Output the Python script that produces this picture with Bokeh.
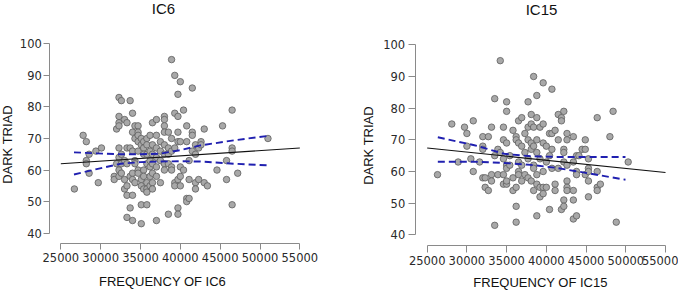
from math import pi

from bokeh.embed import file_html
from bokeh.layouts import row
from bokeh.models import FixedTicker, Label, LinearAxis, Range1d
from bokeh.plotting import figure
from bokeh.resources import INLINE

# Axis ticks shared by both panels
x_ticks = [25000, 30000, 35000, 40000, 45000, 50000, 55000]
y_ticks = [40, 50, 60, 70, 80, 90, 100]

# ---- IC6 panel data ----
ic6_freq = [
    26700, 27800, 28200, 28200, 28200, 28550, 28550, 29400, 29700, 30100,
    32000, 31700, 31700, 32000,
    32300, 32300, 32300, 32300, 32300, 32300, 32300, 32300,
    32600, 32600, 32600, 32600,
    33000, 33000, 33000, 33000,
    33300, 33300, 33300, 33300, 33300, 33300,
    33700, 33700, 33700, 33700,
    34000, 34000, 34000, 34000, 34000, 34000,
    34000, 34300, 34300, 34300, 34300, 34300,
    34700, 34700, 34700, 34700, 34700, 34700,
    34700, 35100, 35100, 35100, 35100, 35100, 35100,
    35400, 35400, 35400, 35400, 35400, 35400,
    35800, 35800, 35800, 35800, 35800, 35800, 35800, 35800,
    36200, 36200, 36200, 36200, 36200, 36200,
    36500, 36500, 36500, 36500, 36500, 36500, 36500,
    37000, 37000, 37000, 37000, 37000, 37000, 37000,
    37500, 37500, 37500, 37500,
    38000, 38000, 38000, 38000, 38000, 38000, 38000, 38000,
    38500, 38500, 38500, 38500, 38500,
    38900, 38900, 38900, 38900, 38900,
    39300, 39300, 39300, 39300, 39300,
    39700, 39700, 39700, 39700, 39700, 39700, 39700,
    40000, 40000, 40000, 40000, 40000,
    40400, 40400,
    40800, 40800, 40800, 40800,
    41100, 41100, 41100,
    41500, 41500, 41500, 41500,
    41900, 41900, 41900, 41900,
    42300, 42300,
    42600, 42600,
    43000, 43000,
    43400,
    44600,
    45300,
    45800, 45800,
    46500, 46500, 46500, 46500,
    47200,
    51000,
]
ic6_dark = [
    54, 71, 69, 63, 62, 65, 59, 66, 56, 67,
    73, 58, 57, 62,
    83, 77, 75, 74, 67, 64, 60, 58,
    82, 65, 62, 59,
    76, 57, 54, 63,
    75, 67, 62, 55, 52, 45,
    82, 67, 58, 48,
    78, 66, 59, 57, 52, 44,
    72, 74, 70, 63, 56, 62,
    74, 72, 71, 69, 60, 59,
    66, 70, 68, 57, 55, 49, 43,
    69, 67, 65, 60, 58, 54,
    70, 68, 65, 62, 56, 54, 49, 53,
    71, 66, 63, 61, 58, 55,
    75, 68, 65, 62, 59, 56, 54,
    76, 71, 67, 64, 61, 58, 44,
    69, 66, 63, 56,
    77, 76, 74, 72, 68, 65, 62, 60,
    72, 67, 65, 62, 46,
    95, 70, 66, 61, 60,
    90, 78, 67, 56, 55,
    84, 77, 72, 69, 57, 48, 46,
    88, 69, 61, 58, 55,
    79, 60,
    74, 69, 51, 50,
    63, 57, 51,
    86, 72, 71, 66,
    68, 65, 56, 54,
    67, 57,
    69, 68,
    73, 56,
    55,
    60,
    74,
    63, 57,
    79, 67, 66, 49,
    59,
    70,
]
ic6_fit_x = [25000, 55000]
ic6_fit_y = [62.0, 67.0]
ic6_band_x = [26650, 29500, 32500, 35000, 37500, 40000, 42500, 46700, 50900]
ic6_band_upper = [65.6, 65.3, 65.0, 65.0, 65.2, 66.3, 67.8, 69.4, 70.8]
ic6_band_lower = [58.6, 60.3, 62.0, 62.5, 62.7, 62.8, 62.7, 62.0, 61.5]

# ---- IC15 panel data ----
ic15_freq = [
    26300, 28100, 28900, 29700, 30000, 30000, 30500, 30800, 30800, 31600,
    32000, 32000, 32000, 32000, 32300, 32300, 32700, 32700,
    33100, 33100, 33100, 33500, 33500, 33500, 33900, 33900,
    34200, 34200, 34600, 34600, 34600, 34600, 34600,
    35000, 35000, 35000, 35000, 35000, 35000, 35000,
    35400, 35400,
    35800, 35800, 35800,
    36200, 36200, 36200, 36200, 36200,
    36500, 36500, 36500, 36500, 36500,
    36900, 36900, 36900, 36900,
    37300, 37300, 37300,
    37700, 37700, 37700, 37700, 37700,
    38100, 38100, 38100, 38100, 38100,
    38400, 38400, 38400, 38400, 38400, 38400,
    38800, 38800, 38800, 38800, 38800, 38800, 38800,
    39200, 39200, 39200, 39200,
    39600, 39600, 39600, 39600, 39600, 39600,
    40000, 40000, 40000,
    40400, 40400, 40400,
    40700, 40700, 40700, 40700,
    41100, 41100, 41100,
    41500, 41500, 41500,
    41900, 41900, 41900,
    42200, 42200, 42200, 42200, 42200, 42200,
    42600, 42600, 42600, 42600, 42600, 42600,
    43400, 43400, 43400, 43400, 43400,
    43800, 43800, 43800, 43800,
    44100, 44500,
    44900, 44900, 44900,
    45300, 45300, 45300, 45300, 45300,
    46400, 46400, 46400, 46400, 46800,
    48000, 48400, 48800, 50300,
]
ic15_dark = [
    59, 75, 63, 74, 72, 68, 64, 76, 60, 63,
    71, 68, 67, 58, 58, 55, 71, 54,
    74, 59, 57, 83, 65, 43, 67, 59,
    66, 95, 74, 70, 64, 59, 56,
    82, 79, 69, 62, 61, 56, 57,
    62, 65,
    73, 58, 54,
    71, 70, 49, 44, 55,
    76, 69, 63, 60, 59,
    77, 68, 62, 57,
    72, 66, 59,
    82, 74, 70, 64, 58,
    78, 75, 69, 67, 57,
    90, 74, 68, 62, 61, 54,
    84, 77, 70, 66, 59, 56, 46,
    74, 64, 55, 52,
    88, 75, 69, 60, 55, 53,
    68, 63, 55,
    72, 65, 48,
    86, 72, 67, 61,
    73, 56, 54,
    78, 70, 61,
    77, 76, 48,
    79, 67, 66, 63, 51, 49,
    72, 70, 62, 57, 55, 54,
    71, 63, 54, 51, 45,
    65, 60, 59, 46,
    65, 67,
    70, 67, 59,
    64, 61, 60, 57, 52,
    77, 60, 55, 54, 56,
    71, 79, 44, 63,
]
ic15_fit_x = [25000, 55000]
ic15_fit_y = [67.4, 59.7]
ic15_band_x = [26340, 30940, 34700, 38040, 41390, 45570, 49960]
ic15_band_upper = [70.8, 68.3, 65.6, 64.8, 64.6, 64.6, 64.6]
ic15_band_lower = [63.1, 63.1, 62.7, 62.1, 61.1, 59.3, 57.4]

TICK_FONT = "DejaVu Sans"
LABEL_FONT = "Liberation Sans"
AXIS_GRAY = "#8a8a8a"


def make_panel(title, xlabel, freq, dark, fit_x, fit_y, band_x, band_up, band_lo,
               geom):
    # The plotting frame fills the whole canvas; the axes are pinned at fixed
    # data locations, detached from the data cloud.
    p = figure(
        width=339, height=290,
        x_range=Range1d(*geom["xr"]), y_range=Range1d(*geom["yr"]),
        x_axis_location=None, y_axis_location=None,
        min_border=0, toolbar_location=None, output_backend="svg",
    )
    p.outline_line_color = None
    p.grid.visible = False
    p.background_fill_color = "white"
    p.border_fill_color = "white"

    xaxis = LinearAxis(fixed_location=geom["xaxis_at"])
    yaxis = LinearAxis(fixed_location=geom["yaxis_at"])
    for ax, ticks, bounds in ((xaxis, x_ticks, (25000, 55000)),
                              (yaxis, y_ticks, (40, 100))):
        ax.ticker = FixedTicker(ticks=ticks)
        ax.bounds = bounds
        ax.axis_line_color = AXIS_GRAY
        ax.major_tick_line_color = AXIS_GRAY
        ax.minor_tick_line_color = None
        ax.major_tick_in = 0
        ax.major_tick_out = geom["tick"]
        ax.major_label_text_font = TICK_FONT
        ax.major_label_text_font_size = "11.5px"
        ax.major_label_text_color = "#2a2a2a"
    xaxis.major_label_standoff = 3
    yaxis.major_label_standoff = geom["ystand"]
    p.add_layout(xaxis, "below")
    p.add_layout(yaxis, "left")

    p.scatter(freq, dark, size=6.5, fill_color="#a8a8a8",
              line_color="#5e5e5e", line_width=0.8)
    p.line(fit_x, fit_y, line_color="#111111", line_width=1.1)
    for band in (band_up, band_lo):
        p.line(band_x, band, line_color="#2020b0", line_width=1.9,
               line_dash="7 4")

    p.add_layout(Label(x=geom["title_x"], y=geom["title_y"], x_units="canvas",
                       y_units="canvas", text=title, text_align="center",
                       text_baseline="middle", text_font=LABEL_FONT,
                       text_font_size="15px", text_color="#111111"))
    p.add_layout(Label(x=geom["xlab_x"], y=geom["xlab_y"], x_units="canvas",
                       y_units="canvas", text=xlabel, text_align="center",
                       text_baseline="middle", text_font=LABEL_FONT,
                       text_font_size="13px", text_color="#111111"))
    p.add_layout(Label(x=geom["ylab_x"], y=geom["ylab_y"], x_units="canvas",
                       y_units="canvas", text="DARK TRIAD", angle=pi / 2,
                       text_align="center", text_baseline="middle",
                       text_font=LABEL_FONT, text_font_size="13px",
                       text_color="#111111"))
    return p


left_geom = dict(xr=(17427, 59979), yr=(21.83, 113.73),
                 xaxis_at=36.63, yaxis_at=23615, tick=6, ystand=2,
                 title_x=163, title_y=8, xlab_x=162, xlab_y=281,
                 ylab_x=7, ylab_y=144)
right_geom = dict(xr=(13965, 56634), yr=(22.42, 114.0),
                  xaxis_at=36.63, yaxis_at=23493, tick=7, ystand=3,
                  title_x=202, title_y=9, xlab_x=201, xlab_y=282,
                  ylab_x=29, ylab_y=145)

p1 = make_panel("IC6", "FREQUENCY OF IC6", ic6_freq, ic6_dark, ic6_fit_x,
                ic6_fit_y, ic6_band_x, ic6_band_upper, ic6_band_lower,
                left_geom)
p2 = make_panel("IC15", "FREQUENCY OF IC15", ic15_freq, ic15_dark, ic15_fit_x,
                ic15_fit_y, ic15_band_x, ic15_band_upper, ic15_band_lower,
                right_geom)

layout = row(p1, p2)
open("out.html", "w").write(file_html(layout, INLINE))
